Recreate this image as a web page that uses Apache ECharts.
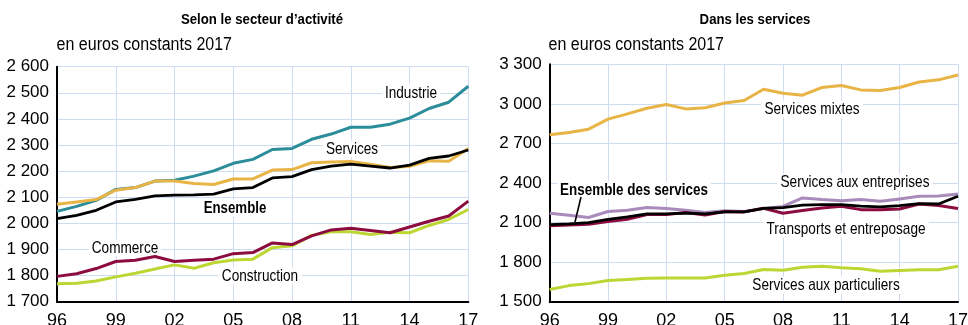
<!DOCTYPE html>
<html>
<head>
<meta charset="utf-8">
<script src="https://cdn.jsdelivr.net/npm/echarts@6/dist/echarts.min.js"></script>
<style>
  html, body { margin: 0; padding: 0; background: #fff; }
  #chart { width: 968px; height: 325px; }
</style>
</head>
<body>
<div id="chart"></div>
<script>
// Years 1996–2017
const years = [1996, 1997, 1998, 1999, 2000, 2001, 2002, 2003, 2004, 2005, 2006,
               2007, 2008, 2009, 2010, 2011, 2012, 2013, 2014, 2015, 2016, 2017];

// Salaire net moyen selon le secteur d'activité (euros constants 2017)
const industrie    = [2046, 2065, 2088, 2130, 2137, 2162, 2165, 2181, 2201, 2230, 2245,
                      2283, 2287, 2322, 2342, 2368, 2368, 2380, 2403, 2440, 2464, 2525];
const services     = [2073, 2082, 2091, 2127, 2137, 2162, 2162, 2153, 2149, 2170, 2170,
                      2204, 2206, 2232, 2235, 2237, 2226, 2214, 2219, 2240, 2238, 2287];
const ensemble     = [2018, 2031, 2050, 2082, 2092, 2105, 2108, 2109, 2112, 2132, 2137,
                      2174, 2179, 2206, 2219, 2227, 2219, 2212, 2223, 2249, 2258, 2281];
const commerce     = [1797, 1807, 1827, 1854, 1859, 1873, 1854, 1859, 1863, 1884, 1888,
                      1925, 1919, 1952, 1975, 1981, 1973, 1964, 1986, 2008, 2028, 2085];
const construction = [1769, 1771, 1779, 1795, 1809, 1825, 1841, 1828, 1849, 1860, 1863,
                      1907, 1914, 1954, 1968, 1968, 1957, 1966, 1964, 1992, 2015, 2053];

// Dans les services
const servMixtes      = [2766, 2783, 2808, 2884, 2924, 2967, 2995, 2962, 2970, 3007, 3025,
                         3111, 3081, 3066, 3124, 3139, 3106, 3101, 3124, 3166, 3182, 3219];
const servEntreprises = [2171, 2156, 2138, 2184, 2194, 2214, 2207, 2194, 2176, 2189, 2184,
                         2207, 2222, 2287, 2274, 2266, 2274, 2261, 2279, 2299, 2302, 2317];
const ensServices     = [2085, 2090, 2100, 2125, 2143, 2166, 2166, 2171, 2166, 2181, 2181,
                         2207, 2214, 2233, 2236, 2236, 2224, 2219, 2229, 2244, 2241, 2299];
const transports      = [2075, 2082, 2087, 2108, 2125, 2161, 2161, 2176, 2158, 2184, 2181,
                         2209, 2171, 2191, 2211, 2224, 2198, 2198, 2203, 2241, 2229, 2206];
const servParticuliers = [1592, 1622, 1637, 1660, 1668, 1678, 1680, 1680, 1680, 1701, 1714,
                          1744, 1739, 1762, 1769, 1757, 1749, 1731, 1736, 1742, 1742, 1769];

const FONT = "'Liberation Sans', Arial, sans-serif";
const GRID_COLOR = '#cddcf0';
const C = {
  teal: '#2b8d99', orange: '#e8b446', black: '#000000',
  maroon: '#8c0c40', lime: '#bdd633', lavender: '#a88bbb'
};

const fmtThousands = v => {
  const s = String(Math.round(v));
  return s.length > 3 ? s.slice(0, s.length - 3) + ' ' + s.slice(-3) : s;
};

function xAxis(gridIndex) {
  return {
    type: 'category', gridIndex, data: years, boundaryGap: false,
    axisLine: { show: true, lineStyle: { color: '#000', width: 2 } },
    axisTick: { show: false },
    axisLabel: {
      interval: 2, color: '#000', fontFamily: FONT, fontSize: 18, margin: 10,
      formatter: v => String(v).slice(2)
    },
    splitLine: { show: true, interval: 2, lineStyle: { color: GRID_COLOR, width: 1 } }
  };
}
function yAxis(gridIndex, min, max, interval) {
  return {
    type: 'value', gridIndex, min, max, interval,
    axisLine: { show: true, lineStyle: { color: '#000', width: 2 } },
    axisTick: { show: false },
    axisLabel: { color: '#000', fontFamily: FONT, fontSize: 17, margin: 8, formatter: fmtThousands },
    splitLine: { show: true, lineStyle: { color: GRID_COLOR, width: 1 } }
  };
}
function line(name, data, color, idx, width) {
  return {
    name, type: 'line', data, xAxisIndex: idx, yAxisIndex: idx,
    symbol: 'none', smooth: false, animation: false, z: 3,
    lineStyle: { color, width: width || 3, join: 'round' }
  };
}
// Condensed-looking annotation: text squeezed horizontally around its centre,
// sitting above the grid lines but beneath the curves
function label(text, x, y, opts) {
  opts = opts || {};
  return {
    type: 'text', z: 1, x, y, scaleX: opts.scale || 0.8,
    style: {
      text, x: 0, y: 0, align: opts.align || 'center', verticalAlign: 'middle',
      font: (opts.bold ? 'bold ' : '') + (opts.size || 17) + 'px ' + FONT,
      fill: '#000',
      backgroundColor: opts.bg === false ? null : '#fff',
      padding: [0, 4]
    }
  };
}

// Total services curve, with a short leader tying it to its bold label
const ensServicesSeries = line('Ensemble des services', ensServices, C.black, 1, 2.8);
ensServicesSeries.markLine = {
  silent: true, animation: false, symbol: ['none', 'none'], z: 5,
  label: { show: false },
  lineStyle: { color: '#000', width: 1.6, type: 'solid' },
  data: [[{ x: 581, y: 197 }, { x: 575, y: 222 }]]
};

const chart = echarts.init(document.getElementById('chart'), null, { renderer: 'canvas' });
chart.setOption({
  animation: false,
  backgroundColor: '#fff',
  grid: [
    { left: 57, top: 66.7, width: 411.3, height: 235, containLabel: false, outerBoundsMode: 'none' },
    { left: 549.7, top: 64.3, width: 408.3, height: 237.4, containLabel: false, outerBoundsMode: 'none' }
  ],
  xAxis: [xAxis(0), xAxis(1)],
  yAxis: [yAxis(0, 1700, 2600, 100), yAxis(1, 1500, 3300, 300)],
  series: [
    line('Industrie', industrie, C.teal, 0),
    line('Services', services, C.orange, 0),
    line('Construction', construction, C.lime, 0),
    line('Commerce', commerce, C.maroon, 0),
    line('Ensemble', ensemble, C.black, 0, 2.8),
    line('Services mixtes', servMixtes, C.orange, 1),
    line('Services aux particuliers', servParticuliers, C.lime, 1),
    line('Services aux entreprises', servEntreprises, C.lavender, 1),
    line('Transports et entreposage', transports, C.maroon, 1),
    ensServicesSeries
  ],
  graphic: [
    label('Selon le secteur d’activité', 262, 20, { bold: true, size: 15, scale: 0.88, bg: false }),
    label('Dans les services', 755, 20, { bold: true, size: 15, scale: 0.88, bg: false }),
    label('en euros constants 2017', 53, 45, { size: 18, scale: 0.89, align: 'left', bg: false }),
    label('en euros constants 2017', 545, 45, { size: 18, scale: 0.89, align: 'left', bg: false }),
    label('Industrie', 411, 93),
    label('Services', 352, 149),
    label('Ensemble', 235, 208, { bold: true, scale: 0.78 }),
    label('Commerce', 125, 248),
    label('Construction', 260, 276),
    label('Services mixtes', 812, 109),
    label('Services aux entreprises', 855, 182),
    label('Ensemble des services', 634, 190, { bold: true, scale: 0.79 }),
    label('Transports et entreposage', 846, 229),
    label('Services aux particuliers', 826, 285)
  ]
});
</script>
</body>
</html>
